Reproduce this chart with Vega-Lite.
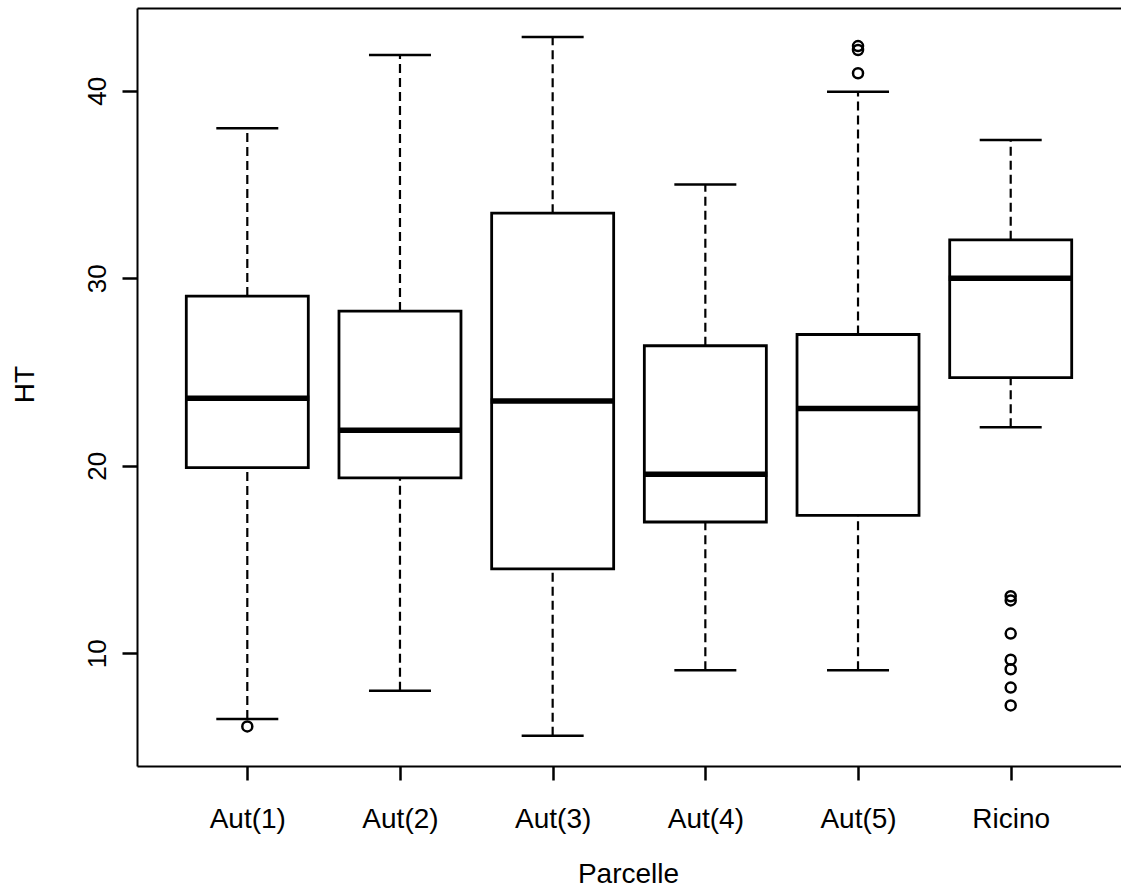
{
  "$schema": "https://vega.github.io/schema/vega-lite/v6.json",
  "width": 984,
  "height": 758,
  "autosize": {"type": "none"},
  "padding": {"left": 137, "top": 8, "right": 0, "bottom": 121},
  "background": "white",
  "config": {
    "view": {"stroke": null},
    "font": "Liberation Sans",
    "axisX": {
      "domain": true, "domainColor": "black", "domainWidth": 2, "grid": false,
      "tickSize": 14, "tickWidth": 2.5, "tickColor": "black",
      "labelFontSize": 28, "labelColor": "black", "labelAngle": 0, "labelBaseline": "alphabetic", "labelPadding": 47,
      "titleFontSize": 28, "titleFontWeight": "normal", "titleColor": "black",
      "titleX": 491, "titleY": 116, "titleBaseline": "alphabetic", "titleAlign": "center"
    },
    "axisY": {
      "domain": true, "domainColor": "black", "domainWidth": 2, "grid": false,
      "tickSize": 15, "tickWidth": 2.5, "tickColor": "black",
      "labelFontSize": 26, "labelColor": "black", "labelAngle": -90, "labelAlign": "center", "labelBaseline": "alphabetic", "labelPadding": 17,
      "titleFontSize": 28, "titleFontWeight": "normal", "titleColor": "black", "titleAngle": -90,
      "titleX": -104, "titleY": 376, "titleBaseline": "alphabetic", "titleAlign": "center"
    }
  },
  "datasets": {
    "stats": [
      {"Parcelle": "Aut(1)", "lower": 6.5, "q1": 19.9, "median": 23.6, "q3": 29.05, "upper": 38.0},
      {"Parcelle": "Aut(2)", "lower": 8.0, "q1": 19.35, "median": 21.9, "q3": 28.25, "upper": 41.9},
      {"Parcelle": "Aut(3)", "lower": 5.6, "q1": 14.5, "median": 23.45, "q3": 33.47, "upper": 42.87},
      {"Parcelle": "Aut(4)", "lower": 9.1, "q1": 17.0, "median": 19.55, "q3": 26.4, "upper": 35.0},
      {"Parcelle": "Aut(5)", "lower": 9.1, "q1": 17.35, "median": 23.05, "q3": 27.0, "upper": 39.95},
      {"Parcelle": "Ricino", "lower": 22.05, "q1": 24.7, "median": 30.0, "q3": 32.05, "upper": 37.37}
    ],
    "outliers": [
      {"Parcelle": "Aut(1)", "HT": 6.1},
      {"Parcelle": "Aut(5)", "HT": 40.93},
      {"Parcelle": "Aut(5)", "HT": 42.17},
      {"Parcelle": "Aut(5)", "HT": 42.38},
      {"Parcelle": "Ricino", "HT": 7.22},
      {"Parcelle": "Ricino", "HT": 8.17},
      {"Parcelle": "Ricino", "HT": 9.15},
      {"Parcelle": "Ricino", "HT": 9.66},
      {"Parcelle": "Ricino", "HT": 11.05},
      {"Parcelle": "Ricino", "HT": 12.82},
      {"Parcelle": "Ricino", "HT": 13.04}
    ]
  },
  "resolve": {"axis": {"x": "independent"}},
  "layer": [
    {
      "data": {"name": "stats"},
      "mark": {"type": "rule", "color": "black", "strokeWidth": 2.2, "strokeDash": [9, 5]},
      "encoding": {
        "x": {"field": "Parcelle", "type": "nominal", "title": "Parcelle",
              "scale": {"type": "point", "padding": 0.7224, "domain": ["Aut(1)", "Aut(2)", "Aut(3)", "Aut(4)", "Aut(5)", "Ricino"]}},
        "y": {"field": "lower", "type": "quantitative", "title": "HT",
              "scale": {"domain": [3.99, 44.41], "nice": false, "zero": false},
              "axis": {"values": [10, 20, 30, 40]}},
        "y2": {"field": "q1"}
      }
    },
    {
      "data": {"name": "stats"},
      "mark": {"type": "rule", "color": "black", "strokeWidth": 2.2, "strokeDash": [9, 5]},
      "encoding": {
        "x": {"field": "Parcelle", "type": "nominal",
              "axis": {"orient": "top", "ticks": false, "labels": false, "title": null, "domain": true}},
        "y": {"field": "q3", "type": "quantitative", "title": "HT"},
        "y2": {"field": "upper"}
      }
    },
    {
      "data": {"name": "stats"},
      "mark": {"type": "tick", "color": "black", "opacity": 1, "size": 62, "thickness": 2.5},
      "encoding": {
        "x": {"field": "Parcelle", "type": "nominal", "axis": null},
        "y": {"field": "lower", "type": "quantitative", "title": "HT"}
      }
    },
    {
      "data": {"name": "stats"},
      "mark": {"type": "tick", "color": "black", "opacity": 1, "size": 62, "thickness": 2.5},
      "encoding": {
        "x": {"field": "Parcelle", "type": "nominal", "axis": null},
        "y": {"field": "upper", "type": "quantitative", "title": "HT"}
      }
    },
    {
      "data": {"name": "stats"},
      "mark": {"type": "bar", "fill": "white", "stroke": "black", "strokeWidth": 2.8, "size": 122, "opacity": 1},
      "encoding": {
        "x": {"field": "Parcelle", "type": "nominal", "axis": null},
        "y": {"field": "q1", "type": "quantitative", "title": "HT"},
        "y2": {"field": "q3"}
      }
    },
    {
      "data": {"name": "stats"},
      "mark": {"type": "tick", "color": "black", "opacity": 1, "size": 124, "thickness": 5.5},
      "encoding": {
        "x": {"field": "Parcelle", "type": "nominal", "axis": null},
        "y": {"field": "median", "type": "quantitative", "title": "HT"}
      }
    },
    {
      "data": {"name": "outliers"},
      "mark": {"type": "point", "shape": "circle", "filled": false, "stroke": "black", "strokeWidth": 2.5, "size": 100, "opacity": 1},
      "encoding": {
        "x": {"field": "Parcelle", "type": "nominal", "axis": null},
        "y": {"field": "HT", "type": "quantitative", "title": "HT"}
      }
    }
  ]
}
